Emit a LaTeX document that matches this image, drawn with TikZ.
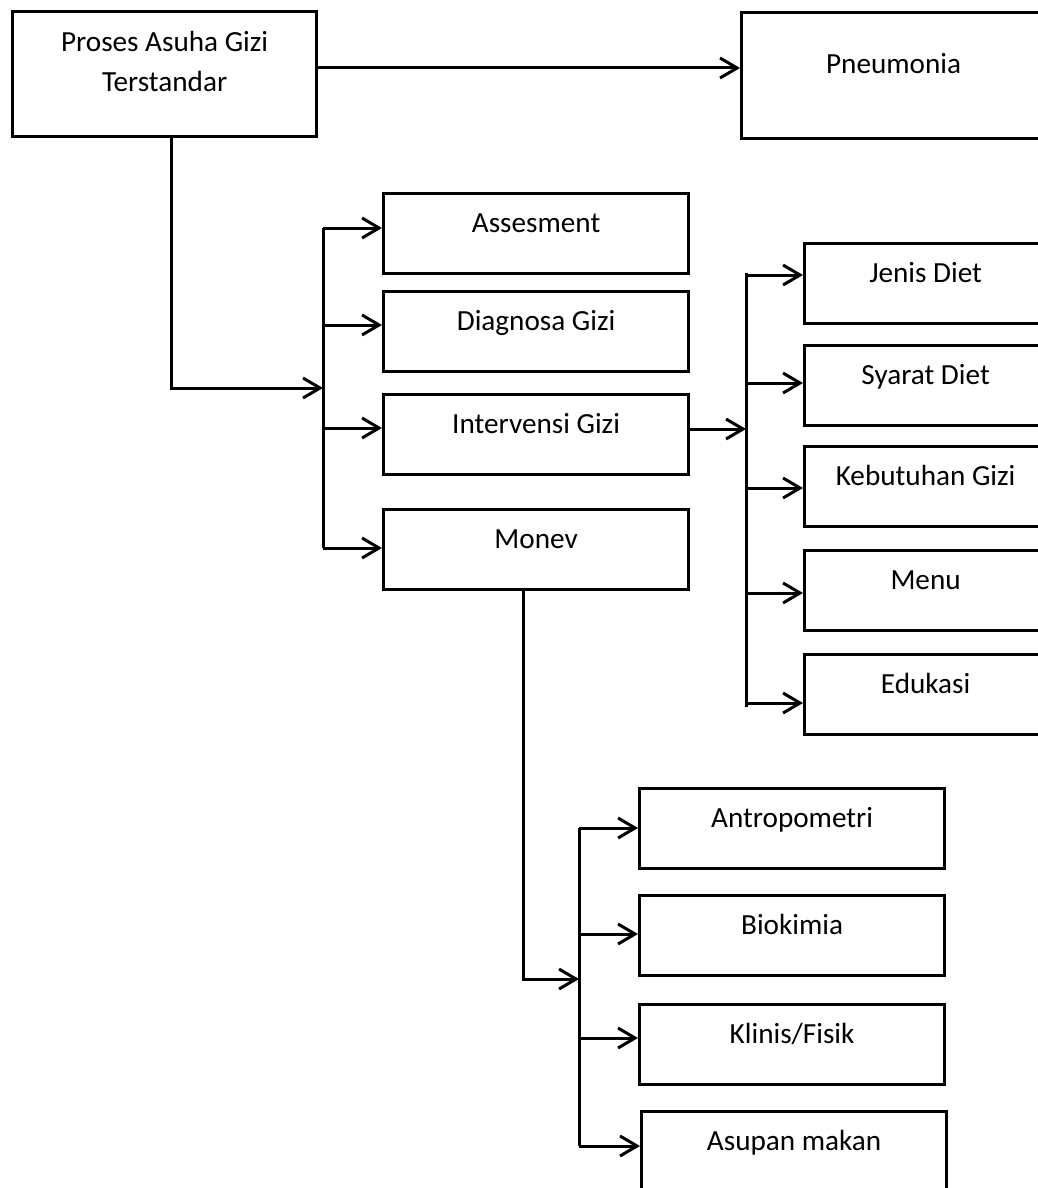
\documentclass[tikz,border=0pt]{standalone}
\usepackage{fontspec}
\setmainfont{Carlito}
\usetikzlibrary{arrows.meta}

\begin{document}
\begin{tikzpicture}[x=0.5pt, y=-0.5pt,
  box/.style={draw, line width=1.6pt, inner sep=0pt, anchor=north west,
    minimum width=152.5pt, text height=19.5pt, text depth=20.5pt,
    font=\fontsize{14.6}{20}\selectfont},
  narrowbox/.style={box, minimum width=121pt},
  link/.style={line width=1.5pt},
  arr/.style={link, -{Straight Barb[length=8.5pt,width=10pt]}}]
  \useasboundingbox (0,0) rectangle (1038,1188);
  \clip (0,0) rectangle (1038,1188);

  % top row
  \node[box, minimum width=152pt, align=center, text height=40pt, text depth=22.5pt]
    (proses) at (11,10) {Proses Asuha Gizi\\Terstandar};
  \node[box, minimum width=152pt, text height=30.5pt, text depth=32.5pt]
    (pneu) at (740,11) {Pneumonia};

  % NCP steps
  \node[box] (asses)  at (382,192) {Assesment};
  \node[box] (diag)   at (382,290) {Diagnosa Gizi};
  \node[box] (interv) at (382,393) {Intervensi Gizi};
  \node[box] (monev)  at (382,508) {Monev};

  % intervensi
  \node[narrowbox] (jenis)  at (803,242) {Jenis Diet};
  \node[narrowbox] (syarat) at (803,344) {Syarat Diet};
  \node[narrowbox] (kebut)  at (803,445) {Kebutuhan Gizi};
  \node[narrowbox] (menu)   at (803,549) {Menu};
  \node[narrowbox] (eduk)   at (803,653) {Edukasi};

  % monev
  \node[box] (antro)  at (638,787)  {Antropometri};
  \node[box] (bio)    at (638,894)  {Biokimia};
  \node[box] (klinis) at (638,1003) {Klinis/Fisik};
  \node[box] (asupan) at (640,1110) {Asupan makan};

  \draw[arr] (proses.east |- 0,68) -- (pneu.west |- 0,68);

  \coordinate (p1) at (171,388); \coordinate (j1) at (323,388);
  \draw[arr] (proses.south -| p1) -- (p1) -- (j1);
  \coordinate (a1) at (323,228); \coordinate (a2) at (323,325);
  \coordinate (a3) at (323,428); \coordinate (a4) at (323,548);
  \draw[link] (a1) -- (a4);
  \draw[arr] (a1) -- (a1 -| asses.west);
  \draw[arr] (a2) -- (a2 -| diag.west);
  \draw[arr] (a3) -- (a3 -| interv.west);
  \draw[arr] (a4) -- (a4 -| monev.west);

  \coordinate (j2) at (746,429);
  \draw[arr] (j2 -| interv.east) -- (j2);
  \coordinate (c1) at (746,275); \coordinate (c2) at (746,383);
  \coordinate (c3) at (746,488); \coordinate (c4) at (746,593);
  \coordinate (c5) at (746,703);
  \draw[link] ([yshift=1pt]c1) -- ([yshift=-2pt]c5);
  \draw[arr] (c1) -- (c1 -| jenis.west);
  \draw[arr] (c2) -- (c2 -| syarat.west);
  \draw[arr] (c3) -- (c3 -| kebut.west);
  \draw[arr] (c4) -- (c4 -| menu.west);
  \draw[arr] (c5) -- (c5 -| eduk.west);

  \coordinate (m1) at (523,979); \coordinate (j3) at (579,979);
  \draw[arr] (monev.south -| m1) -- (m1) -- (j3);
  \coordinate (d1) at (579,828); \coordinate (d2) at (579,934);
  \coordinate (d3) at (579,1038); \coordinate (d4) at (579,1146);
  \draw[link] (d1) -- (d4);
  \draw[arr] (d1) -- (d1 -| antro.west);
  \draw[arr] (d2) -- (d2 -| bio.west);
  \draw[arr] (d3) -- (d3 -| klinis.west);
  \draw[arr] (d4) -- (d4 -| asupan.west);
\end{tikzpicture}
\end{document}
